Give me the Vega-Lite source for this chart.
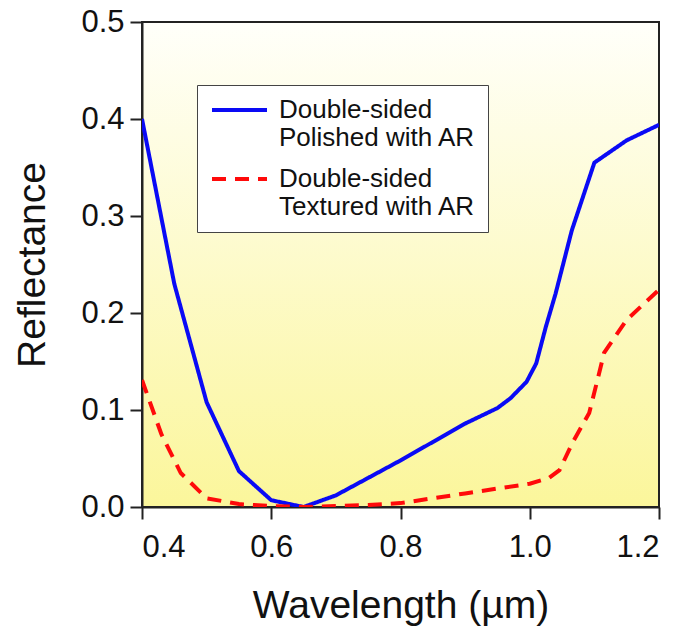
{
  "$schema": "https://vega.github.io/schema/vega-lite/v6.json",
  "autosize": "none",
  "width": 517,
  "height": 485,
  "padding": {"left": 142, "top": 22, "right": 25, "bottom": 131},
  "background": "white",
  "view": {
    "fill": {
      "gradient": "linear",
      "x1": 0, "y1": 0, "x2": 0, "y2": 1,
      "stops": [
        {"offset": 0, "color": "#fffffa"},
        {"offset": 1, "color": "#fbf69b"}
      ]
    },
    "stroke": "#222222",
    "strokeWidth": 2
  },
  "data": {
    "values": [
      {"wl": 0.40, "r": 0.400, "s": "Double-sided Polished with AR"},
      {"wl": 0.45, "r": 0.230, "s": "Double-sided Polished with AR"},
      {"wl": 0.50, "r": 0.108, "s": "Double-sided Polished with AR"},
      {"wl": 0.55, "r": 0.037, "s": "Double-sided Polished with AR"},
      {"wl": 0.60, "r": 0.007, "s": "Double-sided Polished with AR"},
      {"wl": 0.65, "r": 0.000, "s": "Double-sided Polished with AR"},
      {"wl": 0.70, "r": 0.012, "s": "Double-sided Polished with AR"},
      {"wl": 0.75, "r": 0.030, "s": "Double-sided Polished with AR"},
      {"wl": 0.80, "r": 0.048, "s": "Double-sided Polished with AR"},
      {"wl": 0.85, "r": 0.067, "s": "Double-sided Polished with AR"},
      {"wl": 0.90, "r": 0.086, "s": "Double-sided Polished with AR"},
      {"wl": 0.95, "r": 0.102, "s": "Double-sided Polished with AR"},
      {"wl": 0.97, "r": 0.112, "s": "Double-sided Polished with AR"},
      {"wl": 0.995, "r": 0.129, "s": "Double-sided Polished with AR"},
      {"wl": 1.01, "r": 0.148, "s": "Double-sided Polished with AR"},
      {"wl": 1.025, "r": 0.186, "s": "Double-sided Polished with AR"},
      {"wl": 1.04, "r": 0.220, "s": "Double-sided Polished with AR"},
      {"wl": 1.065, "r": 0.285, "s": "Double-sided Polished with AR"},
      {"wl": 1.10, "r": 0.355, "s": "Double-sided Polished with AR"},
      {"wl": 1.15, "r": 0.378, "s": "Double-sided Polished with AR"},
      {"wl": 1.20, "r": 0.394, "s": "Double-sided Polished with AR"},
      {"wl": 0.40, "r": 0.131, "s": "Double-sided Textured with AR"},
      {"wl": 0.43, "r": 0.075, "s": "Double-sided Textured with AR"},
      {"wl": 0.46, "r": 0.035, "s": "Double-sided Textured with AR"},
      {"wl": 0.50, "r": 0.009, "s": "Double-sided Textured with AR"},
      {"wl": 0.55, "r": 0.003, "s": "Double-sided Textured with AR"},
      {"wl": 0.60, "r": 0.001, "s": "Double-sided Textured with AR"},
      {"wl": 0.65, "r": 0.000, "s": "Double-sided Textured with AR"},
      {"wl": 0.70, "r": 0.001, "s": "Double-sided Textured with AR"},
      {"wl": 0.75, "r": 0.002, "s": "Double-sided Textured with AR"},
      {"wl": 0.80, "r": 0.004, "s": "Double-sided Textured with AR"},
      {"wl": 0.85, "r": 0.009, "s": "Double-sided Textured with AR"},
      {"wl": 0.90, "r": 0.014, "s": "Double-sided Textured with AR"},
      {"wl": 0.95, "r": 0.019, "s": "Double-sided Textured with AR"},
      {"wl": 1.00, "r": 0.024, "s": "Double-sided Textured with AR"},
      {"wl": 1.03, "r": 0.030, "s": "Double-sided Textured with AR"},
      {"wl": 1.046, "r": 0.038, "s": "Double-sided Textured with AR"},
      {"wl": 1.066, "r": 0.066, "s": "Double-sided Textured with AR"},
      {"wl": 1.092, "r": 0.097, "s": "Double-sided Textured with AR"},
      {"wl": 1.11, "r": 0.145, "s": "Double-sided Textured with AR"},
      {"wl": 1.115, "r": 0.159, "s": "Double-sided Textured with AR"},
      {"wl": 1.15, "r": 0.193, "s": "Double-sided Textured with AR"},
      {"wl": 1.20, "r": 0.224, "s": "Double-sided Textured with AR"}
    ]
  },
  "mark": {"type": "line", "strokeWidth": 4, "clip": true},
  "encoding": {
    "x": {
      "field": "wl",
      "type": "quantitative",
      "scale": {"domain": [0.4, 1.2], "nice": false, "zero": false},
      "axis": {
        "title": "Wavelength (µm)",
        "values": [0.4, 0.6, 0.8, 1.0, 1.2],
        "format": ".1f",
        "grid": false,
        "domainColor": "#222222",
        "domainWidth": 2,
        "tickColor": "#222222",
        "tickWidth": 2,
        "tickSize": 12,
        "labelPadding": 13,
        "labelFont": "Liberation Sans",
        "labelFontSize": 31,
        "labelColor": "#111111",
        "titleFont": "Liberation Sans",
        "titleFontSize": 39,
        "titleFontWeight": "normal",
        "titleColor": "#111111",
        "titleBaseline": "alphabetic",
        "titleY": 110
      }
    },
    "y": {
      "field": "r",
      "type": "quantitative",
      "scale": {"domain": [0, 0.5], "nice": false},
      "axis": {
        "title": "Reflectance",
        "values": [0, 0.1, 0.2, 0.3, 0.4, 0.5],
        "format": ".1f",
        "grid": false,
        "domainColor": "#222222",
        "domainWidth": 2,
        "tickColor": "#222222",
        "tickWidth": 2,
        "tickSize": 12,
        "labelPadding": 6,
        "labelFont": "Liberation Sans",
        "labelFontSize": 31,
        "labelColor": "#111111",
        "titleFont": "Liberation Sans",
        "titleFontSize": 39,
        "titleFontWeight": "normal",
        "titleColor": "#111111",
        "titleBaseline": "alphabetic",
        "titleX": -98
      }
    },
    "color": {
      "field": "s",
      "type": "nominal",
      "scale": {
        "domain": ["Double-sided Polished with AR", "Double-sided Textured with AR"],
        "range": ["#0a0af5", "#ff0a0a"]
      },
      "legend": {
        "title": null,
        "orient": "none",
        "legendX": 55,
        "legendY": 63,
        "padding": 12,
        "fillColor": "white",
        "strokeColor": "#444444",
        "symbolType": "M-1,0L4.5,0",
        "symbolSize": 400,
        "symbolStrokeWidth": 4,
        "labelFont": "Liberation Sans",
        "labelFontSize": 26,
        "labelColor": "#111111",
        "labelOffset": 44,
        "labelLimit": 400,
        "rowPadding": 15,
        "labelExpr": "[substring(datum.label, 0, 12), substring(datum.label, 13)]"
      }
    },
    "strokeDash": {
      "field": "s",
      "type": "nominal",
      "scale": {
        "domain": ["Double-sided Polished with AR", "Double-sided Textured with AR"],
        "range": [[1, 0], [14, 9]]
      },
      "legend": {
        "title": null,
        "orient": "none",
        "legendX": 55,
        "legendY": 63,
        "padding": 12,
        "fillColor": "white",
        "strokeColor": "#444444",
        "symbolType": "M-1,0L4.5,0",
        "symbolSize": 400,
        "symbolStrokeWidth": 4,
        "labelFont": "Liberation Sans",
        "labelFontSize": 26,
        "labelColor": "#111111",
        "labelOffset": 44,
        "labelLimit": 400,
        "rowPadding": 15,
        "labelExpr": "[substring(datum.label, 0, 12), substring(datum.label, 13)]"
      }
    }
  }
}
